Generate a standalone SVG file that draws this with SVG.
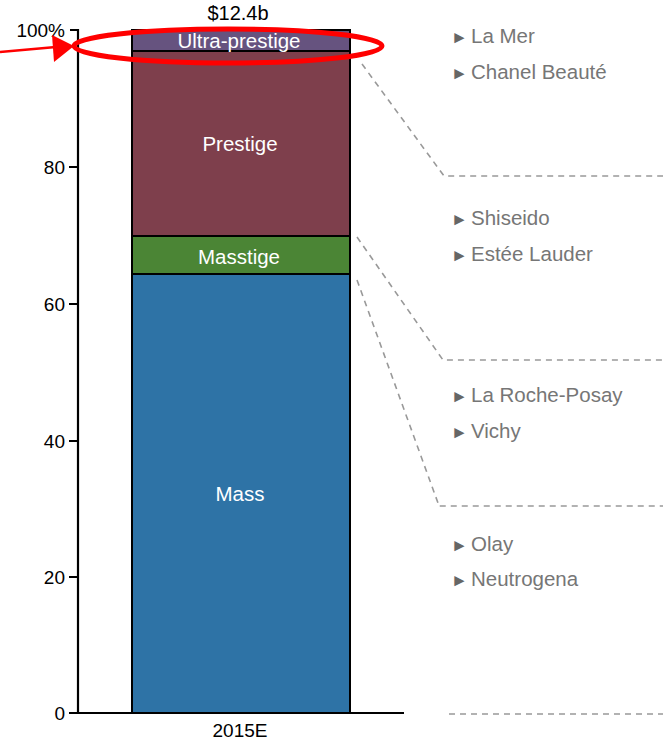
<svg xmlns="http://www.w3.org/2000/svg" width="663" height="741" viewBox="0 0 663 741">
<style>
text{font-family:"Liberation Sans",Arial,sans-serif}
.ax{font-size:19px;fill:#000}
.ax2{font-size:19px;fill:#000;text-anchor:end}
.in{font-size:20.5px;fill:#fff;text-anchor:middle}
.br{font-size:20.5px;fill:#767676}
.bu{font-size:17px;fill:#666}
.seg{stroke:#000;stroke-width:2}
.dash{fill:none;stroke:#999;stroke-width:1.6;stroke-dasharray:6 5}
.axl{fill:none;stroke:#000;stroke-width:2.2}
</style>
<rect width="663" height="741" fill="#fff"/>
<g id="axis">
<path class="axl" d="M70,30H78V713M69,713H404M69,577H78M69,441H78M69,304H78M69,167H78"/>
<text class="ax2" x="65" y="37">100%</text>
<text class="ax2" x="65" y="174">80</text>
<text class="ax2" x="65" y="311">60</text>
<text class="ax2" x="65" y="448">40</text>
<text class="ax2" x="65" y="584">20</text>
<text class="ax2" x="65" y="720">0</text>
<text class="ax" x="240" y="737" text-anchor="middle">2015E</text>
<text class="ax" x="238" y="20" text-anchor="middle" style="font-size:20px">$12.4b</text>
</g>
<g id="mass"><rect class="seg" x="132" y="274" width="218" height="439" fill="#2e73a6"/><text class="in" x="240" y="501">Mass</text></g>
<g id="masstige"><rect class="seg" x="132" y="236" width="218" height="38" fill="#4b8535"/><text class="in" x="239" y="264">Masstige</text></g>
<g id="prestige"><rect class="seg" x="132" y="51" width="218" height="185" fill="#7e3f4c"/><text class="in" x="240" y="151">Prestige</text></g>
<g id="ultra"><rect class="seg" x="132" y="30" width="218" height="21" fill="#66537f"/><text class="in" x="239" y="48">Ultra-prestige</text></g>
<g id="connectors">
<path class="dash" d="M362,64L444,176H663"/>
<path class="dash" d="M357,237L443,360H663"/>
<path class="dash" d="M357,280L438,503V506H663"/>
<path class="dash" d="M449,714H663"/>
</g>
<g id="brands-ultra"><text class="br" x="451" y="43"><tspan class="bu">►</tspan><tspan x="471">La Mer</tspan></text><text class="br" x="451" y="79"><tspan class="bu">►</tspan><tspan x="471">Chanel Beauté</tspan></text></g>
<g id="brands-prestige"><text class="br" x="451" y="225"><tspan class="bu">►</tspan><tspan x="471">Shiseido</tspan></text><text class="br" x="451" y="261"><tspan class="bu">►</tspan><tspan x="471">Estée Lauder</tspan></text></g>
<g id="brands-masstige"><text class="br" x="451" y="402"><tspan class="bu">►</tspan><tspan x="471">La Roche-Posay</tspan></text><text class="br" x="451" y="438"><tspan class="bu">►</tspan><tspan x="471">Vichy</tspan></text></g>
<g id="brands-mass"><text class="br" x="451" y="551"><tspan class="bu">►</tspan><tspan x="471">Olay</tspan></text><text class="br" x="451" y="586"><tspan class="bu">►</tspan><tspan x="471">Neutrogena</tspan></text></g>
<g id="highlight">
<ellipse cx="228" cy="46" rx="154" ry="17" fill="none" stroke="#f00" stroke-width="5"/>
<path d="M0,52L56,47" stroke="#f00" stroke-width="2.5" fill="none"/>
<polygon points="52,35 54,62 74,46" fill="#f00"/>
</g>
</svg>
